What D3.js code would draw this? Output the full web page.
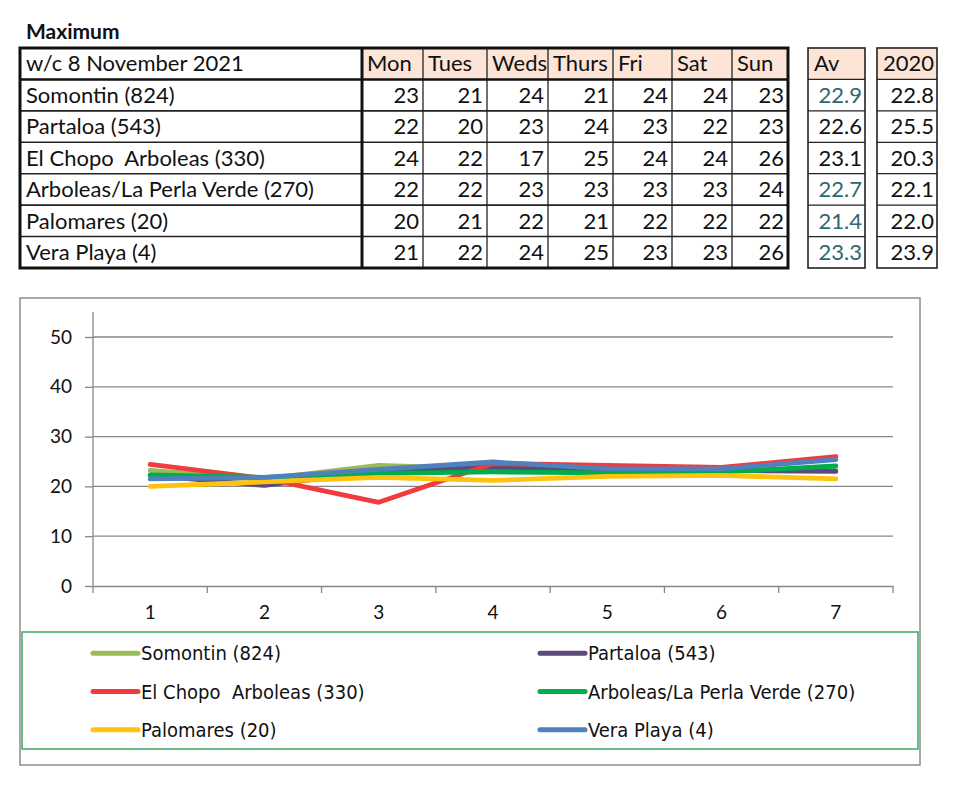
<!DOCTYPE html>
<html lang="en">
<head>
    <meta charset="UTF-8">
    <title>Maximum temperatures w/c 8 November 2021</title>
    <script src="https://d3js.org/d3.v7.min.js"></script>
    <style>
        body { margin: 0; background: #fff; }
        text { font-family: Lato, "Noto Sans", sans-serif; fill: #111; white-space: pre; }
        .legend text { font-family: "Liberation Sans Narrow", "DejaVu Sans Condensed", sans-serif; }
    </style>
</head>
<body>
    <svg id="chart" width="975" height="800"></svg>

    <script>
        // Table data
        const weekLabel = "w/c 8 November 2021";
        const days = ["Mon", "Tues", "Weds", "Thurs", "Fri", "Sat", "Sun"];
        const stations = ["Somontin (824)", "Partaloa (543)", "El Chopo  Arboleas (330)",
                          "Arboleas/La Perla Verde (270)", "Palomares (20)", "Vera Playa (4)"];
        const dailyMax = [
            [23, 21, 24, 21, 24, 24, 23],
            [22, 20, 23, 24, 23, 22, 23],
            [24, 22, 17, 25, 24, 24, 26],
            [22, 22, 23, 23, 23, 23, 24],
            [20, 21, 22, 21, 22, 22, 22],
            [21, 22, 24, 25, 23, 23, 26]
        ];
        const averages = [22.9, 22.6, 23.1, 22.7, 21.4, 23.3];
        const avTeal = [true, false, false, true, true, true];
        const year2020 = [22.8, 25.5, 20.3, 22.1, 22.0, 23.9];

        // Chart data
        const xCategories = [1, 2, 3, 4, 5, 6, 7];
        const yTicks = [0, 10, 20, 30, 40, 50];
        const somontin  = [23.2, 21.5, 24.2, 23.5, 23.2, 23.2, 23.2];
        const partaloa  = [22.2, 20.2, 23.0, 23.9, 23.3, 23.2, 23.0];
        const elChopo   = [24.4, 21.6, 16.8, 24.6, 24.2, 23.8, 26.0];
        const arboleas  = [22.3, 21.8, 22.6, 22.9, 22.7, 22.9, 24.1];
        const palomares = [20.0, 20.9, 21.8, 21.2, 22.0, 22.2, 21.5];
        const veraPlaya = [21.5, 21.8, 23.4, 24.9, 23.5, 23.5, 25.4];

        const series = [
            { name: stations[0], values: somontin,  color: "#9bbb59" },
            { name: stations[1], values: partaloa,  color: "#5b4a7c" },
            { name: stations[2], values: elChopo,   color: "#f03c3f" },
            { name: stations[3], values: arboleas,  color: "#00ad4e" },
            { name: stations[4], values: palomares, color: "#ffc20e" },
            { name: stations[5], values: veraPlaya, color: "#4f81bd" }
        ];

        const svg = d3.select("#chart");

        // ---------- Title ----------
        svg.append("text")
            .attr("x", 26).attr("y", 39)
            .attr("font-size", 21).attr("font-weight", "bold")
            .text("Maximum");

        // ---------- Table ----------
        const colEdges = [20, 362, 423, 487, 548, 613, 672, 732, 788];
        const rowY = d3.scaleBand().domain(d3.range(7)).range([48, 268]);
        const headFill = "#fce4d6";
        const fs = 22;
        const table = svg.append("g");

        // header fills
        days.forEach((d, i) => {
            table.append("rect")
                .attr("x", colEdges[i + 1]).attr("y", rowY(0))
                .attr("width", colEdges[i + 2] - colEdges[i + 1]).attr("height", rowY.bandwidth())
                .attr("fill", headFill);
        });

        // thin grid lines
        colEdges.slice(2, -1).forEach(x => {
            table.append("line").attr("x1", x).attr("x2", x)
                .attr("y1", rowY(0)).attr("y2", 268)
                .attr("stroke", "#222").attr("stroke-width", 1.3);
        });
        d3.range(2, 7).forEach(r => {
            table.append("line").attr("x1", 20).attr("x2", 788)
                .attr("y1", rowY(r)).attr("y2", rowY(r))
                .attr("stroke", "#222").attr("stroke-width", 1.6);
        });
        // thick lines
        table.append("line").attr("x1", 20).attr("x2", 788)
            .attr("y1", rowY(1)).attr("y2", rowY(1))
            .attr("stroke", "#111").attr("stroke-width", 2.6);
        table.append("line").attr("x1", 362).attr("x2", 362)
            .attr("y1", 48).attr("y2", 268)
            .attr("stroke", "#111").attr("stroke-width", 3);
        table.append("rect")
            .attr("x", 20).attr("y", 48).attr("width", 768).attr("height", 220)
            .attr("fill", "none").attr("stroke", "#111").attr("stroke-width", 3);

        // header text
        table.append("text").attr("x", 26).attr("y", rowY(0) + rowY.bandwidth() / 2)
            .attr("dy", "0.35em").attr("font-size", fs).text(weekLabel);
        days.forEach((d, i) => {
            table.append("text")
                .attr("x", colEdges[i + 1] + 5).attr("y", rowY(0) + rowY.bandwidth() / 2)
                .attr("dy", "0.35em").attr("font-size", fs).text(d);
        });

        // body text
        stations.forEach((s, r) => {
            const cy = rowY(r + 1) + rowY.bandwidth() / 2;
            table.append("text").attr("x", 26).attr("y", cy)
                .attr("dy", "0.35em").attr("font-size", fs).text(s);
            dailyMax[r].forEach((v, i) => {
                table.append("text")
                    .attr("x", colEdges[i + 2] - 4).attr("y", cy)
                    .attr("dy", "0.35em").attr("text-anchor", "end")
                    .attr("font-size", fs).text(v);
            });
        });

        // Av and 2020 boxes
        function sideBox(x0, x1, title, titleAnchor, values, colorFn) {
            const g = svg.append("g");
            g.append("rect").attr("x", x0).attr("y", rowY(0))
                .attr("width", x1 - x0).attr("height", rowY.bandwidth()).attr("fill", headFill);
            d3.range(1, 7).forEach(r => {
                g.append("line").attr("x1", x0).attr("x2", x1)
                    .attr("y1", rowY(r)).attr("y2", rowY(r))
                    .attr("stroke", "#222").attr("stroke-width", 1.3);
            });
            g.append("rect").attr("x", x0).attr("y", 48)
                .attr("width", x1 - x0).attr("height", 220)
                .attr("fill", "none").attr("stroke", "#222").attr("stroke-width", 1.6);
            g.append("text")
                .attr("x", titleAnchor === "end" ? x1 - 3 : x0 + 6)
                .attr("y", rowY(0) + rowY.bandwidth() / 2)
                .attr("dy", "0.35em").attr("text-anchor", titleAnchor)
                .attr("font-size", fs).text(title);
            values.forEach((v, r) => {
                g.append("text")
                    .attr("x", x1 - 3).attr("y", rowY(r + 1) + rowY.bandwidth() / 2)
                    .attr("dy", "0.35em").attr("text-anchor", "end")
                    .attr("font-size", fs).style("fill", colorFn(r))
                    .text(d3.format(".1f")(v));
            });
        }
        sideBox(808, 865, "Av", "start", averages, r => avTeal[r] ? "#2f6670" : "#111");
        sideBox(877, 937, "2020", "end", year2020, () => "#111");

        // ---------- Line chart ----------
        svg.append("rect")
            .attr("x", 20).attr("y", 298).attr("width", 900).attr("height", 467)
            .attr("fill", "#fff").attr("stroke", "#8c8c8c").attr("stroke-width", 1.5);

        const x = d3.scaleBand().domain(xCategories).range([93, 893]);
        const y = d3.scaleLinear().domain([0, 50]).range([586, 337]);
        const gridColor = "#878787";

        // gridlines
        svg.append("g").selectAll("line").data(yTicks.slice(1)).join("line")
            .attr("x1", 93).attr("x2", 893)
            .attr("y1", d => y(d)).attr("y2", d => y(d))
            .attr("stroke", gridColor).attr("stroke-width", 1.3);

        // y axis
        const yAxis = svg.append("g")
            .attr("transform", "translate(93,0)")
            .call(d3.axisLeft(y).tickValues(yTicks).tickSize(8).tickPadding(13).tickSizeOuter(0));
        yAxis.select(".domain").attr("d", `M0,${y(55)}V${y(0)}`);
        yAxis.selectAll("path, line").attr("stroke", gridColor).attr("stroke-width", 1.3);
        yAxis.selectAll("text").attr("font-size", 19).attr("font-family", "Lato, sans-serif").style("fill", "#111");

        // x axis
        const xAxis = svg.append("g")
            .attr("transform", "translate(0,586)")
            .call(d3.axisBottom(x).tickSize(0).tickPadding(20).tickSizeOuter(0));
        xAxis.select(".domain").attr("stroke", gridColor).attr("stroke-width", 1.3);
        xAxis.selectAll("text").attr("font-size", 19).attr("font-family", "Lato, sans-serif").style("fill", "#111");
        xAxis.selectAll(".boundary").data(d3.range(xCategories.length + 1)).join("line")
            .attr("class", "boundary")
            .attr("x1", i => x.range()[0] + i * x.step()).attr("x2", i => x.range()[0] + i * x.step())
            .attr("y1", 0).attr("y2", 7)
            .attr("stroke", gridColor).attr("stroke-width", 1.3);

        // lines
        const line = d3.line()
            .x((d, i) => x(xCategories[i]) + x.bandwidth() / 2)
            .y(d => y(d));
        svg.append("g").selectAll("path").data(series).join("path")
            .attr("d", d => line(d.values))
            .attr("fill", "none")
            .attr("stroke", d => d.color)
            .attr("stroke-width", 4.8)
            .attr("stroke-linejoin", "round")
            .attr("stroke-linecap", "round");

        // legend
        svg.append("rect")
            .attr("x", 22).attr("y", 632).attr("width", 896).attr("height", 117)
            .attr("fill", "none").attr("stroke", "#3aa865").attr("stroke-width", 1.5);
        const legendCols = [93, 540];
        const legendRows = d3.scaleBand().domain(d3.range(3)).range([634, 749]);
        const legend = svg.append("g").attr("class", "legend");
        series.forEach((s, i) => {
            const lx = legendCols[i % 2];
            const ly = legendRows(Math.floor(i / 2)) + legendRows.bandwidth() / 2;
            legend.append("line")
                .attr("x1", lx).attr("x2", lx + 45).attr("y1", ly).attr("y2", ly)
                .attr("stroke", s.color).attr("stroke-width", 5).attr("stroke-linecap", "round");
            legend.append("text")
                .attr("x", lx + 48).attr("y", ly).attr("dy", "0.35em")
                .attr("font-size", 20).text(s.name);
        });
    </script>
</body>
</html>
